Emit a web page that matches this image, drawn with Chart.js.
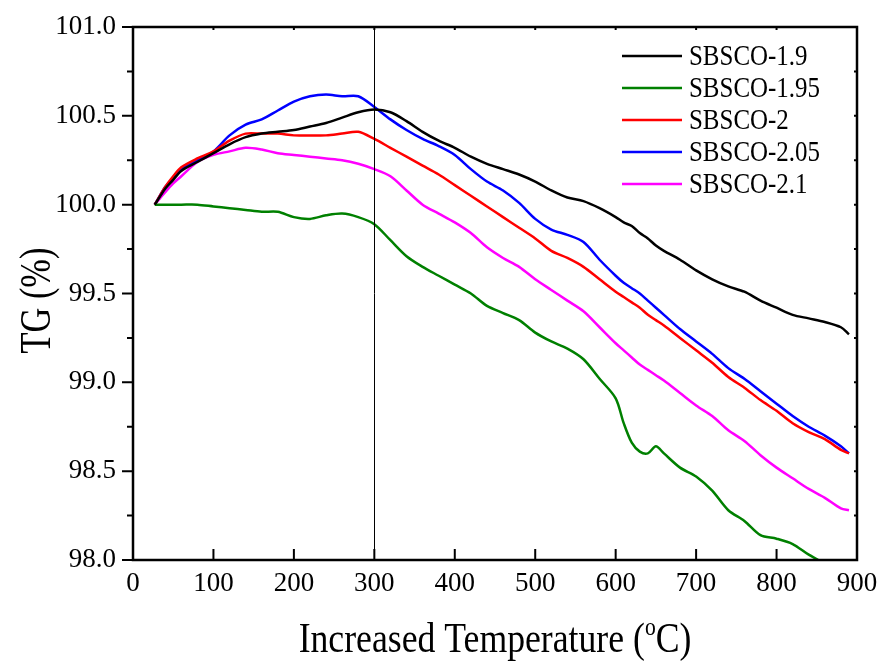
<!DOCTYPE html>
<html>
<head>
<meta charset="utf-8">
<script src="https://cdn.jsdelivr.net/npm/chart.js@4.4.1/dist/chart.umd.min.js"></script>
<style>
  html, body { margin: 0; padding: 0; background: #fff; }
  #wrap { width: 883px; height: 669px; position: relative; }
</style>
</head>
<body>
<div id="wrap"><canvas id="tgChart"></canvas></div>
<script>
// temperature points (°C) shared by all curves
const temps = [27, 40, 50, 60, 80, 100, 120, 140, 160, 180, 200, 220, 240, 260, 280, 300,
  320, 340, 360, 380, 400, 420, 440, 460, 480, 500, 520, 540, 560, 580, 600, 610, 620,
  630, 640, 650, 660, 680, 700, 720, 740, 760, 780, 800, 820, 840, 860, 880, 890];

const sbsco19 = [100.00, 100.09, 100.14, 100.19, 100.24, 100.29, 100.34, 100.38, 100.40, 100.41,
  100.42, 100.44, 100.46, 100.49, 100.52, 100.535, 100.52, 100.47, 100.41, 100.36, 100.32,
  100.27, 100.23, 100.20, 100.17, 100.13, 100.08, 100.04, 100.02, 99.98, 99.93, 99.90, 99.88,
  99.84, 99.81, 99.77, 99.74, 99.69, 99.63, 99.58, 99.54, 99.51, 99.46, 99.42, 99.38, 99.36,
  99.34, 99.31, 99.27];
const sbsco195 = [100.00, 100.00, 100.00, 100.00, 100.00, 99.99, 99.98, 99.97, 99.96, 99.96,
  99.93, 99.92, 99.94, 99.95, 99.93, 99.89, 99.80, 99.71, 99.65, 99.60, 99.55, 99.50, 99.43,
  99.39, 99.35, 99.28, 99.23, 99.19, 99.13, 99.02, 98.91, 98.77, 98.66, 98.61, 98.60, 98.64,
  98.60, 98.52, 98.47, 98.39, 98.28, 98.22, 98.14, 98.12, 98.09, 98.03, 97.98, 97.93, 97.90];
const sbsco2 = [100.00, 100.10, 100.16, 100.21, 100.26, 100.30, 100.36, 100.40, 100.40, 100.40,
  100.39, 100.39, 100.39, 100.40, 100.41, 100.37, 100.32, 100.27, 100.22, 100.17, 100.11,
  100.05, 99.99, 99.93, 99.87, 99.81, 99.74, 99.70, 99.65, 99.58, 99.51, 99.48, 99.45, 99.42,
  99.38, 99.35, 99.32, 99.25, 99.18, 99.11, 99.03, 98.97, 98.90, 98.84, 98.77, 98.72, 98.68,
  98.62, 98.60];
const sbsco205 = [100.00, 100.10, 100.15, 100.20, 100.25, 100.30, 100.39, 100.45, 100.48, 100.53,
  100.58, 100.61, 100.62, 100.61, 100.61, 100.55, 100.48, 100.42, 100.37, 100.33, 100.28,
  100.20, 100.13, 100.08, 100.01, 99.92, 99.86, 99.83, 99.79, 99.69, 99.60, 99.56, 99.53,
  99.50, 99.46, 99.42, 99.38, 99.30, 99.23, 99.16, 99.08, 99.02, 98.95, 98.88, 98.81, 98.75,
  98.70, 98.64, 98.60];
const sbsco21 = [100.00, 100.07, 100.12, 100.16, 100.24, 100.28, 100.30, 100.32, 100.31, 100.29,
  100.28, 100.27, 100.26, 100.25, 100.23, 100.20, 100.16, 100.08, 100.00, 99.95, 99.90, 99.84,
  99.76, 99.70, 99.65, 99.58, 99.52, 99.46, 99.40, 99.31, 99.22, 99.18, 99.14, 99.10, 99.07,
  99.04, 99.01, 98.94, 98.87, 98.81, 98.73, 98.67, 98.59, 98.52, 98.46, 98.40, 98.35, 98.29,
  98.28];

const seriesNames = ["SBSCO-1.9", "SBSCO-1.95", "SBSCO-2", "SBSCO-2.05", "SBSCO-2.1"];
const seriesColors = ["#000000", "#008000", "#ff0000", "#0000ff", "#ff00ff"];
const seriesValues = [sbsco19, sbsco195, sbsco2, sbsco205, sbsco21];

const xTicks = [0, 100, 200, 300, 400, 500, 600, 700, 800, 900];
const yTicks = [98.0, 98.5, 99.0, 99.5, 100.0, 100.5, 101.0];
const markerTemp = 300;

const FONT = "'Liberation Serif', 'Times New Roman', serif";

function toPoints(values) {
  return temps.map((t, i) => ({ x: t, y: values[i] }));
}

// frame, inward/outward ticks, marker line, legend and axis titles
const decorPlugin = {
  id: "decor",
  afterDatasetsDraw(chart) {
    const ctx = chart.ctx;
    const area = chart.chartArea;
    const xs = chart.scales.x;
    const ys = chart.scales.y;
    ctx.save();
    ctx.strokeStyle = "#000";

    // vertical marker at 300 °C
    ctx.lineWidth = 1;
    const mx = Math.round(xs.getPixelForValue(markerTemp)) + 0.5;
    ctx.beginPath();
    ctx.moveTo(mx, area.top);
    ctx.lineTo(mx, area.bottom);
    ctx.stroke();

    ctx.lineWidth = 2;
    // x ticks: bottom inward, top small
    xTicks.forEach((t) => {
      const px = xs.getPixelForValue(t);
      ctx.beginPath();
      ctx.moveTo(px, area.bottom);
      ctx.lineTo(px, area.bottom - 11);
      ctx.moveTo(px, area.top);
      ctx.lineTo(px, area.top + 3);
      ctx.stroke();
    });
    // y ticks: left outward (major + minor), right inward small
    for (let v = 98; v <= 101.001; v += 0.25) {
      const py = ys.getPixelForValue(v);
      const major = Math.abs(v * 2 - Math.round(v * 2)) < 0.01;
      ctx.beginPath();
      ctx.moveTo(area.left, py);
      ctx.lineTo(area.left - (major ? 11 : 6), py);
      ctx.moveTo(area.right, py);
      ctx.lineTo(area.right - 3, py);
      ctx.stroke();
    }

    // frame
    ctx.lineWidth = 2.5;
    ctx.strokeRect(area.left, area.top, area.right - area.left, area.bottom - area.top);

    // legend
    ctx.fillStyle = "#000";
    ctx.textBaseline = "middle";
    ctx.textAlign = "left";
    chart.data.datasets.forEach((ds, i) => {
      const y = 56 + i * 32;
      ctx.strokeStyle = ds.borderColor;
      ctx.lineWidth = 2.5;
      ctx.beginPath();
      ctx.moveTo(622, y);
      ctx.lineTo(682, y);
      ctx.stroke();
      ctx.save();
      ctx.translate(689, y + 1);
      ctx.scale(0.86, 1);
      ctx.font = "29px " + FONT;
      ctx.fillText(ds.label, 0, 0);
      ctx.restore();
    });

    // x title with superscript o
    ctx.save();
    ctx.font = "43px " + FONT;
    const mainTxt = "Increased Temperature (";
    const wMain = ctx.measureText(mainTxt).width;
    ctx.font = "26px " + FONT;
    const wSup = ctx.measureText("o").width;
    ctx.font = "43px " + FONT;
    const wEnd = ctx.measureText("C)").width;
    const sx = 0.83;
    const total = (wMain + wSup + wEnd) * sx;
    ctx.translate((area.left + area.right) / 2 - total / 2, 652);
    ctx.scale(sx, 1);
    ctx.textBaseline = "alphabetic";
    ctx.fillText(mainTxt, 0, 0);
    ctx.font = "26px " + FONT;
    ctx.fillText("o", wMain, -17);
    ctx.font = "43px " + FONT;
    ctx.fillText("C)", wMain + wSup, 0);
    ctx.restore();

    // y title
    ctx.save();
    ctx.translate(50, (area.top + area.bottom) / 2 + 7);
    ctx.rotate(-Math.PI / 2);
    ctx.scale(0.78, 1);
    ctx.font = "44px " + FONT;
    ctx.textAlign = "center";
    ctx.textBaseline = "alphabetic";
    ctx.fillText("TG (%)", 0, 0);
    ctx.restore();

    ctx.restore();
  },
};

const ctx = document.getElementById("tgChart");
new Chart(ctx, {
  type: "line",
  data: {
    datasets: seriesNames.map((name, i) => ({
      label: name,
      data: toPoints(seriesValues[i]),
      borderColor: seriesColors[i],
      backgroundColor: seriesColors[i],
      borderWidth: 2.5,
      pointRadius: 0,
      fill: false,
      tension: 0.3,
    })),
  },
  options: {
    responsive: true,
    maintainAspectRatio: false,
    animation: false,
    layout: {
      padding: { top: 27, right: 26, left: 0, bottom: 0 },
    },
    plugins: {
      legend: { display: false },
      title: { display: false },
      tooltip: { enabled: false },
    },
    scales: {
      x: {
        type: "linear",
        min: 0,
        max: 900,
        afterFit: (scale) => { scale.height = 109; },
        afterBuildTicks: (scale) => { scale.ticks = xTicks.map((v) => ({ value: v })); },
        grid: { display: false },
        border: { display: false },
        ticks: {
          padding: 0,
          color: "#000",
          font: { family: FONT, size: 27 },
          maxRotation: 0,
        },
      },
      y: {
        min: 98,
        max: 101,
        afterFit: (scale) => { scale.width = 133; },
        afterBuildTicks: (scale) => { scale.ticks = yTicks.map((v) => ({ value: v })); },
        grid: { display: false },
        border: { display: false },
        ticks: {
          padding: 9,
          color: "#000",
          font: { family: FONT, size: 27 },
          callback: (value) => Number(value).toFixed(1),
        },
      },
    },
  },
  plugins: [decorPlugin],
});
</script>
</body>
</html>
